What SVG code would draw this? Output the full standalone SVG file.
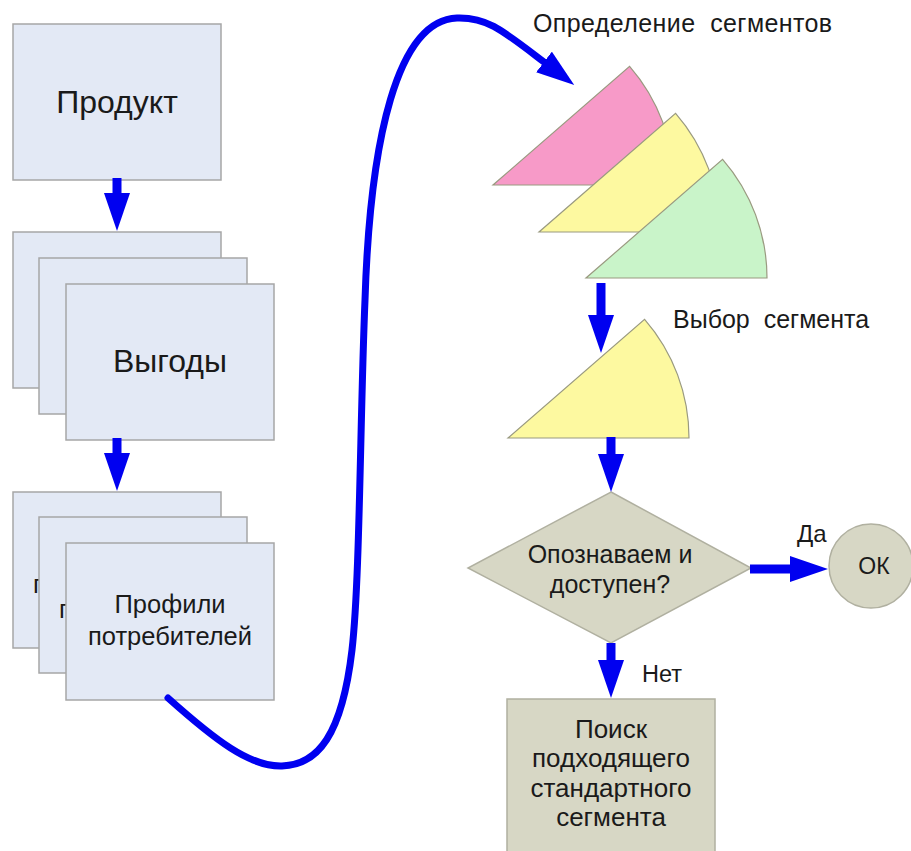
<svg xmlns="http://www.w3.org/2000/svg" width="911" height="851" viewBox="0 0 911 851">
<defs>
<style>
text{font-family:"Liberation Sans",Arial,sans-serif;fill:#1a1a1a;white-space:pre}
.c{text-anchor:middle}
.box{fill:#e3e9f5;stroke:#a6a6a6;stroke-width:1.5}
.olive{fill:#d7d7c5;stroke:#b0b0a0;stroke-width:1.5}
.wedge{stroke:#9a9a80;stroke-width:1.2}
.arr{stroke:#0000f0;stroke-width:9;fill:none;marker-end:url(#head)}
.curve{stroke:#0000f0;stroke-width:7;fill:none;stroke-linecap:round;marker-end:url(#head)}
</style>
<marker id="head" viewBox="0 0 38 26" refX="0" refY="13" markerWidth="38" markerHeight="26" markerUnits="userSpaceOnUse" orient="auto">
<path d="M0,0 L38,13 L0,26 z" fill="#0000f0"/>
</marker>
</defs>
<rect width="911" height="851" fill="#ffffff"/>

<g id="product">
<rect class="box" x="13" y="24" width="208" height="156"/>
<text class="c" x="117" y="113" font-size="32">Продукт</text>
</g>

<g id="benefits">
<rect class="box" x="13" y="232" width="208" height="156"/>
<rect class="box" x="39" y="258" width="208" height="156"/>
<rect class="box" x="66" y="284" width="208" height="156"/>
<text class="c" x="170" y="372" font-size="32">Выгоды</text>
</g>

<g id="profiles">
<rect class="box" x="13" y="492" width="208" height="156"/>
<text x="33" y="593" font-size="25.5">п</text>
<rect class="box" x="39" y="517" width="208" height="156"/>
<text x="59" y="618" font-size="25.5">п</text>
<rect class="box" x="66" y="543" width="208" height="157"/>
<text class="c" x="170" y="613" font-size="25.5">Профили</text>
<text class="c" x="170" y="645" font-size="25.5">потребителей</text>
</g>

<g id="segments">
<path class="wedge" fill="#f79ac8" d="M493,185 L674,185 A181,181 0 0 0 629.6,66.3 Z"/>
<path class="wedge" fill="#fdf9a0" d="M539,232 L720,232 A181,181 0 0 0 675.6,113.3 Z"/>
<path class="wedge" fill="#c9f4c9" d="M586,278 L767,278 A181,181 0 0 0 722.6,159.3 Z"/>
<text x="533" y="32" font-size="25" letter-spacing="0.4">Определение  сегментов</text>
</g>

<g id="choice">
<path class="wedge" fill="#fdf9a0" d="M508,438 L689,438 A181,181 0 0 0 644.6,319.3 Z"/>
<text x="673" y="328" font-size="25">Выбор  сегмента</text>
</g>

<g id="decision">
<polygon class="olive" points="611,492 751,568 611,643 468,568"/>
<text class="c" x="610" y="563" font-size="25">Опознаваем и</text>
<text class="c" x="610" y="593" font-size="25">доступен?</text>
</g>

<g id="ok">
<circle class="olive" cx="871" cy="566" r="42"/>
<text class="c" x="874" y="574" font-size="23">ОК</text>
</g>

<g id="search">
<rect class="olive" x="507" y="699" width="208" height="170"/>
<text class="c" x="611" y="738" font-size="26">Поиск</text>
<text class="c" x="611" y="767" font-size="26">подходящего</text>
<text class="c" x="611" y="797" font-size="26">стандартного</text>
<text class="c" x="611" y="826" font-size="26">сегмента</text>
</g>

<g id="connectors">
<line class="arr" x1="117" y1="178" x2="117" y2="193"/>
<line class="arr" x1="117" y1="438" x2="117" y2="453"/>
<path class="curve" d="M168,698 C215,740 250,767 282,766 C318,765 342,735 352,650 C360,580 360,420 365,300 C370,140 397,20 457,18 C487,17 502,30 544,62"/>
<line class="arr" x1="601" y1="283" x2="601" y2="315"/>
<line class="arr" x1="611" y1="437" x2="611" y2="454"/>
<line class="arr" x1="750" y1="569" x2="790" y2="569"/>
<line class="arr" x1="611" y1="643" x2="611" y2="660"/>
<text x="797" y="542" font-size="24">Да</text>
<text x="642" y="682" font-size="23.5">Нет</text>
</g>
</svg>
